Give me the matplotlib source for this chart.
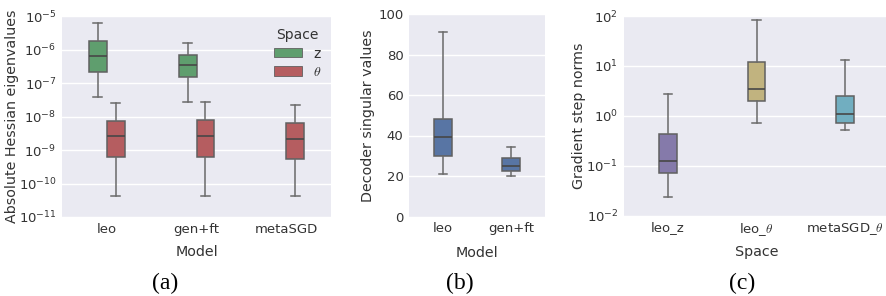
import matplotlib
matplotlib.use("Agg")
import matplotlib.pyplot as plt
from matplotlib.patches import Patch
from matplotlib.ticker import NullLocator, LogLocator

# ---------------- data ----------------
# (a) Absolute Hessian eigenvalues
models_a = ["leo", "gen+ft", "metaSGD"]
spaces_a = ["z", r"$\theta$"]
# [whislo, q1, med, q3, whishi]
hess_z = {
    "leo":    [3.7e-8, 2.2e-7, 6.6e-7, 1.75e-6, 6.0e-6],
    "gen+ft": [2.8e-8, 1.5e-7, 3.5e-7, 6.7e-7, 1.55e-6],
}
hess_theta = {
    "leo":     [4.3e-11, 6.0e-10, 2.6e-9, 7.4e-9, 2.6e-8],
    "gen+ft":  [4.3e-11, 6.3e-10, 2.6e-9, 7.8e-9, 2.8e-8],
    "metaSGD": [4.1e-11, 5.4e-10, 2.1e-9, 6.6e-9, 2.2e-8],
}

# (b) Decoder singular values
models_b = ["leo", "gen+ft"]
dec_sv = {
    "leo":    [21.1, 30.0, 39.2, 48.0, 91.0],
    "gen+ft": [19.8, 22.4, 24.7, 28.7, 34.5],
}

# (c) Gradient step norms
spaces_c = ["leo_z", r"leo_$\theta$", r"metaSGD_$\theta$"]
grad_norms = {
    "leo_z":              [0.024, 0.070, 0.124, 0.43, 2.7],
    r"leo_$\theta$":      [0.70, 1.94, 3.47, 12.2, 82.0],
    r"metaSGD_$\theta$":  [0.51, 0.71, 1.08, 2.47, 13.0],
}

# ---------------- style ----------------
plt.rcParams.update({
    "font.family": ["DejaVu Sans"],
    "mathtext.fontset": "cm",
    "axes.facecolor": "#EAEAF2",
    "axes.edgecolor": "white",
    "axes.linewidth": 0,
    "text.color": "#333333",
    "axes.labelcolor": "#333333",
    "xtick.color": "#333333",
    "ytick.color": "#333333",
    "xtick.labelsize": 9.5,
    "ytick.labelsize": 9.5,
    "axes.labelsize": 10.3,
    "xtick.major.size": 0,
    "ytick.major.size": 0,
    "xtick.minor.size": 0,
    "ytick.minor.size": 0,
})

green = "#5f9e6e"
red = "#b55d60"
blue = "#5875a4"
purple = "#857aaa"
yellow = "#c1b37f"
cyan = "#71aec0"
line_col = "#6a6a6a"


def stat(v):
    return dict(whislo=v[0], q1=v[1], med=v[2], q3=v[3], whishi=v[4], fliers=[])


def draw(ax, vals, pos, width, color):
    b = ax.bxp([stat(vals)], positions=[pos], widths=width, patch_artist=True,
               showfliers=False, manage_ticks=False,
               boxprops=dict(facecolor=color, edgecolor="#606060", linewidth=1.1),
               medianprops=dict(color="#474747", linewidth=1.2),
               whiskerprops=dict(color=line_col, linewidth=1.1),
               capprops=dict(color=line_col, linewidth=1.1))
    return b


def style_ax(ax):
    ax.grid(True, axis="y", color="white", linewidth=1.0)
    ax.grid(False, axis="x")
    ax.set_axisbelow(True)
    for s in ax.spines.values():
        s.set_visible(False)
    ax.tick_params(axis="both", which="both", length=0, pad=4)


fig = plt.figure(figsize=(8.86, 2.96), dpi=100)
W, H = 886.0, 296.0


def axes_px(left, right, top, bottom):
    return fig.add_axes([left / W, 1 - bottom / H, (right - left) / W, (bottom - top) / H])


# ---------------- (a) ----------------
ax1 = axes_px(62, 331, 16, 217)
hw = 0.2
for i, m in enumerate(models_a):
    if m in hess_z:
        draw(ax1, hess_z[m], i - 0.1, hw, green)
    if m in hess_theta:
        draw(ax1, hess_theta[m], i + 0.1, hw, red)
ax1.set_yscale("log")
ax1.set_ylim(1e-11, 1e-5)
ax1.yaxis.set_major_locator(LogLocator(base=10, numticks=10))
ax1.yaxis.set_minor_locator(NullLocator())
ax1.set_xlim(-0.5, len(models_a) - 0.5)
ax1.set_xticks(range(len(models_a)))
ax1.set_xticklabels(models_a)
ax1.set_xlabel("Model")
ax1.set_ylabel("Absolute Hessian eigenvalues")
style_ax(ax1)
ax1.yaxis.set_label_coords(-0.158, 0.5)
ax1.xaxis.set_label_coords(0.5, -0.14)
handles = [Patch(facecolor=green, edgecolor="#606060", linewidth=0.6),
           Patch(facecolor=red, edgecolor="#606060", linewidth=0.6)]
leg = ax1.legend(handles, spaces_a, title="Space", loc="upper right",
                 bbox_to_anchor=(1.01, 1.0), frameon=False, fontsize=10,
                 title_fontsize=10, handlelength=2.0, handleheight=0.65,
                 handletextpad=0.8, labelspacing=0.3)

# ---------------- (b) ----------------
ax2 = axes_px(409, 545, 14, 216.5)
for i, m in enumerate(models_b):
    draw(ax2, dec_sv[m], i, 0.26, blue)
ax2.set_ylim(0, 100)
ax2.set_yticks([0, 20, 40, 60, 80, 100])
ax2.set_xlim(-0.5, len(models_b) - 0.5)
ax2.set_xticks(range(len(models_b)))
ax2.set_xticklabels(models_b)
ax2.set_xlabel("Model")
ax2.set_ylabel("Decoder singular values")
style_ax(ax2)
ax2.yaxis.set_label_coords(-0.25, 0.5)
ax2.xaxis.set_label_coords(0.5, -0.145)

# ---------------- (c) ----------------
ax3 = axes_px(623.75, 889.25, 16, 215.5)
colors_c = [purple, yellow, cyan]
for i, s in enumerate(spaces_c):
    draw(ax3, grad_norms[s], i, 0.2, colors_c[i])
ax3.set_yscale("log")
ax3.set_ylim(1e-2, 1e2)
ax3.yaxis.set_major_locator(LogLocator(base=10, numticks=10))
ax3.yaxis.set_minor_locator(NullLocator())
ax3.set_xlim(-0.5, len(spaces_c) - 0.5)
ax3.set_xticks(range(len(spaces_c)))
ax3.set_xticklabels(spaces_c)
ax3.set_xlabel("Space")
ax3.set_ylabel("Gradient step norms")
style_ax(ax3)
ax3.yaxis.set_label_coords(-0.142, 0.5)
ax3.xaxis.set_label_coords(0.5, -0.15)

# ---------------- captions ----------------
for x, lab in [(165, "(a)"), (460, "(b)"), (742, "(c)")]:
    fig.text(x / W, 1 - 283 / H, lab, ha="center", va="center",
             family="Liberation Serif", fontsize=17, color="black")

fig.savefig("out.png", dpi=100)
